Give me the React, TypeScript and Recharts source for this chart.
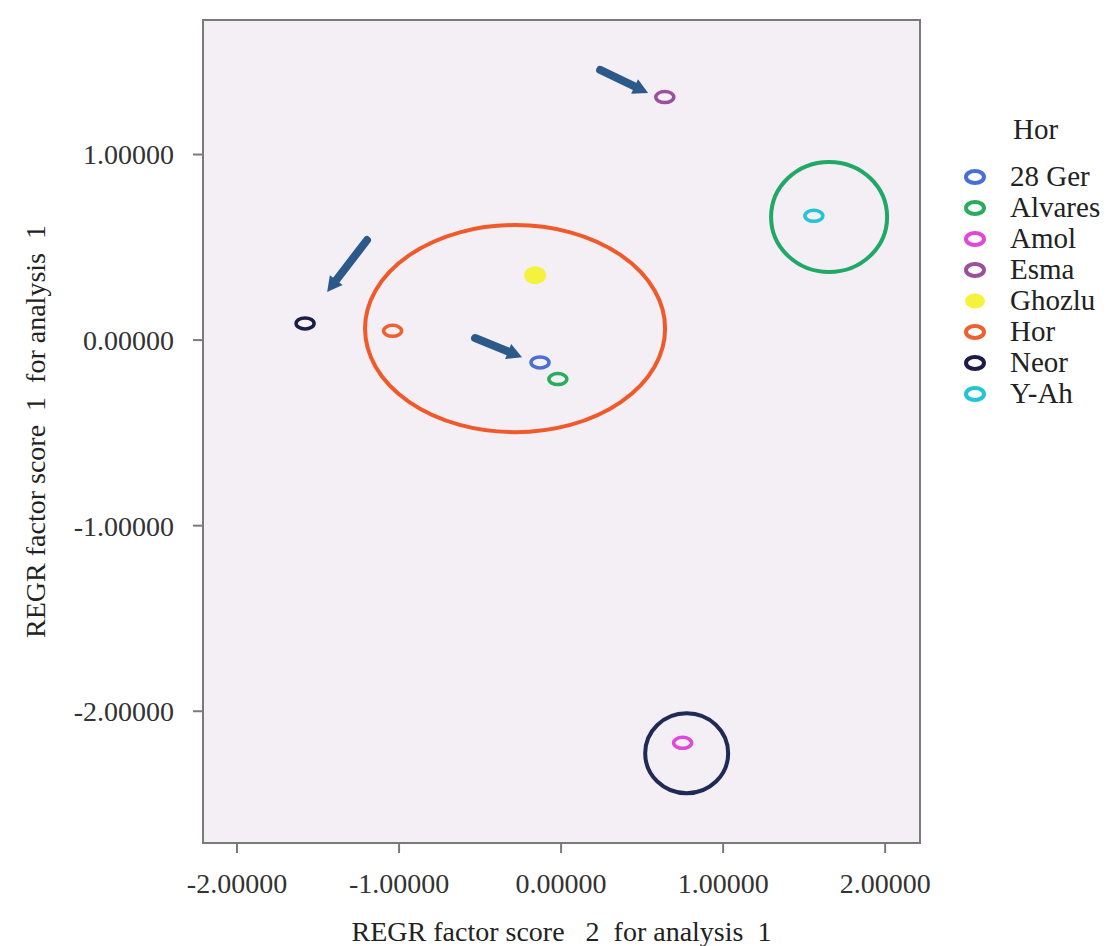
import React from 'react';
import {
    ScatterChart, Scatter, XAxis, YAxis, CartesianGrid, Legend,
    ReferenceArea, ReferenceLine, Label
} from 'recharts';

const LOCATIONS = ['28 Ger', 'Alvares', 'Amol', 'Esma', 'Ghozlu', 'Hor', 'Neor', 'Y-Ah'];
// REGR factor score 2 (x) and 1 (y)
const FACTOR2 = [-0.13, -0.02, 0.75, 0.64, -0.16, -1.04, -1.58, 1.56];
const FACTOR1 = [-0.12, -0.21, -2.17, 1.31, 0.35, 0.05, 0.09, 0.67];
const COLORS = ['#4a6fd4', '#27ad5c', '#e048d8', '#9c4f9c', '#f4f23c', '#f06032', '#1c1c48', '#22c4d6'];

const X_TICKS = [-2, -1, 0, 1, 2];
const Y_TICKS = [-2, -1, 0, 1];
const X_DOMAIN: [number, number] = [-2.21, 2.215];
const Y_DOMAIN: [number, number] = [-2.71, 1.725];

// highlight ellipses (data bounds)
const HIGHLIGHTS = [
    { x1: -1.21, x2: 0.642, y1: -0.496, y2: 0.62, color: '#f05a2a' },
    { x1: 1.296, x2: 2.012, y1: 0.367, y2: 0.96, color: '#1fa866' },
    { x1: 0.519, x2: 1.031, y1: -2.442, y2: -2.011, color: '#1f2a55' },
];

// arrows: tail -> tip
const ARROWS = [
    { from: { x: 0.241, y: 1.456 }, to: { x: 0.537, y: 1.332 } },
    { from: { x: -1.198, y: 0.539 }, to: { x: -1.444, y: 0.259 } },
    { from: { x: -0.531, y: 0.011 }, to: { x: -0.241, y: -0.092 } },
];

const FONT = '"Liberation Serif", "Times New Roman", serif';
const AXIS_GRAY = '#7a7a7a';
const ARROW_COLOR = '#2b5a8a';

const fmt = (v: number) => v.toFixed(5);

const makeMarker = (color: string, filled: boolean) => (props: any) => {
    const { cx, cy } = props;
    if (filled) {
        return <ellipse cx={cx} cy={cy} rx={11} ry={9} fill={color} />;
    }
    return <ellipse cx={cx} cy={cy} rx={9} ry={5.5} fill="#f4f0f6" stroke={color} strokeWidth={3.5} />;
};

const EllipseShape = (color: string) => (props: any) => {
    const { x, y, width, height } = props;
    return (
        <ellipse
            cx={x + width / 2}
            cy={y + height / 2}
            rx={Math.abs(width) / 2}
            ry={Math.abs(height) / 2}
            fill="none"
            stroke={color}
            strokeWidth={4}
        />
    );
};

const ArrowShape = (props: any) => {
    const { x1, y1, x2, y2 } = props;
    const dx = x2 - x1;
    const dy = y2 - y1;
    const len = Math.sqrt(dx * dx + dy * dy);
    const ux = dx / len;
    const uy = dy / len;
    const head = 15;
    const half = 8;
    const bx = x2 - ux * head;
    const by = y2 - uy * head;
    return (
        <g>
            <line x1={x1} y1={y1} x2={bx} y2={by} stroke={ARROW_COLOR} strokeWidth={8} strokeLinecap="round" />
            <polygon
                points={`${x2},${y2} ${bx - uy * half},${by + ux * half} ${bx + uy * half},${by - ux * half}`}
                fill={ARROW_COLOR}
            />
        </g>
    );
};

const renderLegend = () => (
    <div style={{ fontFamily: FONT, fontSize: 29, color: '#222' }}>
        <div style={{ paddingLeft: 51, lineHeight: '31px', height: 31, marginBottom: 16 }}>Hor</div>
        {LOCATIONS.map((name, i) => (
            <div key={name} style={{ display: 'flex', alignItems: 'center', height: 31, lineHeight: '31px' }}>
                <svg width={28} height={20} style={{ flex: 'none' }}>
                    {i === 4 ? (
                        <ellipse cx={13} cy={10} rx={10} ry={7.5} fill={COLORS[i]} />
                    ) : (
                        <ellipse cx={13} cy={10} rx={9} ry={6} fill="#fff" stroke={COLORS[i]} strokeWidth={4} />
                    )}
                </svg>
                <span style={{ marginLeft: 20, whiteSpace: 'nowrap' }}>{name}</span>
            </div>
        ))}
    </div>
);

const tickStyle = { fontFamily: FONT, fontSize: 28, fill: '#333' };

export default function App() {
    return (
        <div style={{ position: 'absolute', left: 0, top: 0, background: '#fff' }}>
            <ScatterChart
                width={1107}
                height={946}
                margin={{ top: 20, right: 187, bottom: 0, left: 0 }}
            >
                <CartesianGrid fill="#f4eef5" horizontal={false} vertical={false} />
                <ReferenceArea
                    x1={X_DOMAIN[0]} x2={X_DOMAIN[1]} y1={Y_DOMAIN[0]} y2={Y_DOMAIN[1]}
                    fill="none" fillOpacity={0} stroke={AXIS_GRAY} strokeWidth={2}
                    ifOverflow="visible"
                />
                <XAxis
                    type="number"
                    dataKey="x"
                    domain={X_DOMAIN}
                    ticks={X_TICKS}
                    tickFormatter={fmt}
                    height={103}
                    tickSize={10}
                    tickMargin={20}
                    tick={tickStyle}
                    stroke={AXIS_GRAY}
                    strokeWidth={2}
                    allowDataOverflow
                >
                    <Label
                        content={({ viewBox }: any) => (
                            <text
                                x={viewBox.x + viewBox.width / 2}
                                y={941}
                                textAnchor="middle"
                                style={{ fontFamily: FONT, fontSize: 28, fill: '#222', whiteSpace: 'pre' }}
                            >
                                {'REGR factor score   2  for analysis  1'}
                            </text>
                        )}
                    />
                </XAxis>
                <YAxis
                    type="number"
                    dataKey="y"
                    domain={Y_DOMAIN}
                    ticks={Y_TICKS}
                    tickFormatter={fmt}
                    width={203}
                    tickSize={10}
                    tickMargin={19}
                    tick={tickStyle}
                    stroke={AXIS_GRAY}
                    strokeWidth={2}
                    allowDataOverflow
                >
                    <Label
                        content={({ viewBox }: any) => {
                            const cy = viewBox.y + viewBox.height / 2;
                            return (
                                <text
                                    x={45}
                                    y={cy}
                                    textAnchor="middle"
                                    transform={`rotate(-90, 45, ${cy})`}
                                    style={{ fontFamily: FONT, fontSize: 28, fill: '#222', whiteSpace: 'pre' }}
                                >
                                    {'REGR factor score  1  for analysis  1'}
                                </text>
                            );
                        }}
                    />
                </YAxis>
                {HIGHLIGHTS.map((h, i) => (
                    <ReferenceArea
                        key={`hl-${i}`}
                        x1={h.x1} x2={h.x2} y1={h.y1} y2={h.y2}
                        shape={EllipseShape(h.color)}
                        ifOverflow="visible"
                    />
                ))}
                {ARROWS.map((a, i) => (
                    <ReferenceLine
                        key={`ar-${i}`}
                        segment={[a.from, a.to]}
                        shape={ArrowShape}
                        ifOverflow="visible"
                    />
                ))}
                {LOCATIONS.map((name, i) => (
                    <Scatter
                        key={name}
                        name={name}
                        data={[{ x: FACTOR2[i], y: FACTOR1[i] }]}
                        fill={COLORS[i]}
                        shape={makeMarker(COLORS[i], i === 4)}
                        isAnimationActive={false}
                    />
                ))}
                <Legend
                    layout="vertical"
                    align="center"
                    verticalAlign="middle"
                    content={renderLegend}
                    wrapperStyle={{ left: 962, top: 114, width: 145, height: 'auto' }}
                />
            </ScatterChart>
        </div>
    );
}
